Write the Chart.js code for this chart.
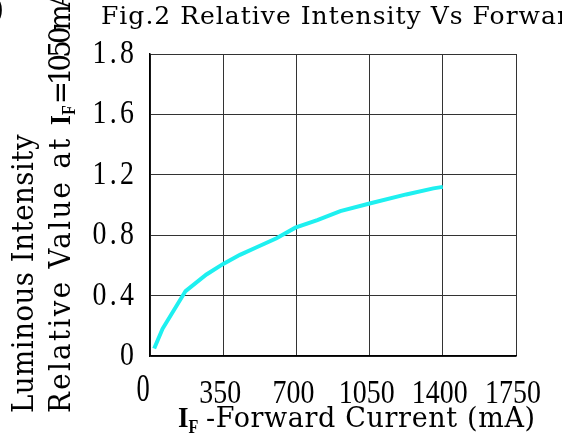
<!DOCTYPE html>
<html>
<head>
<meta charset="utf-8">
<script src="https://cdn.jsdelivr.net/npm/chart.js@4"></script>
<style>
html,body{margin:0;padding:0;background:#fff;}
#wrap{width:562px;height:436px;position:relative;}
</style>
</head>
<body>
<div id="wrap"><canvas id="c"></canvas></div>
<script>
const currentMA = [20, 60, 170, 270, 350, 430, 510, 605, 695, 800, 910, 1050, 1225, 1355, 1400];
const relIntensity = [0.05, 0.18, 0.43, 0.54, 0.61, 0.67, 0.72, 0.78, 0.85, 0.90, 0.96, 1.01, 1.07, 1.11, 1.12];
const xTickLabels = ['0', '350', '700', '1050', '1400', '1750'];
const yTickLabels = ['0', '0.4', '0.8', '1.2', '1.6', '1.8'];
const titleText = 'Fig.2 Relative Intensity Vs Forward Current';
const yTitle1 = 'Luminous Intensity';
const yTitle2a = 'Relative Value at ';
const yTitle2b = '=1050mA';
const xTitleRest = '-Forward Current (mA)';

const points = currentMA.map((x, i) => ({x: x, y: relIntensity[i]}));

const SERIF = '"Liberation Serif", "DejaVu Serif", serif';
const DSERIF = '"DejaVu Serif", "Liberation Serif", serif';

function txt(ctx, s, x, y, o) {
  ctx.save();
  const sx = o.sx || 1, sy = o.sy || 1;
  ctx.font = (o.weight || 'normal') + ' ' + o.size + 'px ' + (o.family || SERIF);
  ctx.letterSpacing = '0px';
  const w0 = ctx.measureText(s).width;
  let W = w0 * sx, ls = 0;
  if (o.adv) {
    const T = o.adv * s.length;
    ls = (T / sx - w0) / s.length;
    W = T - ls * sx;
  }
  let dx = o.align === 'right' ? -W : (o.align === 'center' ? -W / 2 : 0);
  ctx.translate(x, y);
  if (o.rot) ctx.rotate(o.rot);
  ctx.scale(sx, sy);
  ctx.letterSpacing = ls + 'px';
  ctx.textAlign = 'left';
  ctx.textBaseline = 'alphabetic';
  ctx.fillStyle = '#000';
  ctx.fillText(s, dx / sx, 0);
  ctx.restore();
  return o.adv ? o.adv * s.length : W;
}

const textPlugin = {
  id: 'textPlugin',
  afterDraw(chart) {
    const ctx = chart.ctx;
    const xs = chart.scales.x, ys = chart.scales.y;
    // x tick labels
    xs.ticks.forEach((t, i) => {
      const px = xs.getPixelForValue(t.value);
      if (i === 0) {
        txt(ctx, xTickLabels[i], px - 7, 401, {size: 40, sx: 0.66, align: 'center'});
      } else {
        txt(ctx, xTickLabels[i], px - 3, 403, {size: 34, sx: 0.82, adv: 14, align: 'center'});
      }
    });
    // y tick labels
    ys.ticks.forEach((t, i) => {
      const py = ys.getPixelForValue(t.value);
      txt(ctx, yTickLabels[i], 134, py + 9, {size: 34, sx: 0.82, adv: 15, align: 'right'});
    });
    // title
    txt(ctx, titleText, 101, 24, {size: 25, sx: 1.0, adv: 14, family: DSERIF});
    // left cut-off paren
    txt(ctx, ')', -5, 18, {size: 26, sx: 0.85, family: DSERIF});
    // y title line 1
    const R = -Math.PI / 2;
    txt(ctx, yTitle1, 33, 413, {size: 29, sx: 0.95, adv: 15.5, rot: R, family: DSERIF});
    // y title line 2
    ctx.save();
    ctx.translate(70, 413);
    ctx.rotate(R);
    let off = 0;
    off += txt(ctx, yTitle2a, off, 0, {size: 29, sx: 0.95, adv: 16, family: DSERIF});
    off += txt(ctx, 'I', off, 0, {size: 30, sx: 0.85, weight: 'bold'});
    off += txt(ctx, 'F', off, 5, {size: 19, sx: 0.85, weight: 'bold'});
    txt(ctx, yTitle2b, off + 1, 0, {size: 29, sx: 0.95, adv: 16, family: DSERIF});
    ctx.restore();
    // x title
    let xo = 178;
    xo += txt(ctx, 'I', xo, 427, {size: 30, sx: 0.9, weight: 'bold'});
    txt(ctx, 'F', xo, 433, {size: 19, sx: 0.85, weight: 'bold'});
    txt(ctx, xTitleRest, 206, 427, {size: 27, sx: 1.0, adv: 15.7, family: DSERIF});
  }
};

new Chart(document.getElementById('c'), {
  type: 'line',
  data: {
    datasets: [{
      data: points,
      borderColor: '#1ef0f0',
      borderWidth: 4,
      pointRadius: 0,
      tension: 0,
      fill: false
    }]
  },
  options: {
    responsive: true,
    maintainAspectRatio: false,
    animation: false,
    layout: {padding: {left: 150, top: 54, right: 46, bottom: 80}},
    plugins: {legend: {display: false}, tooltip: {enabled: false}, title: {display: false}},
    scales: {
      x: {
        type: 'linear', min: 0, max: 1750,
        ticks: {stepSize: 350, display: false},
        grid: {color: '#333', lineWidth: 1, drawTicks: false},
        border: {display: true, color: '#000', width: 1.5}
      },
      y: {
        type: 'linear', min: 0, max: 2.0,
        ticks: {stepSize: 0.4, display: false},
        grid: {color: '#333', lineWidth: 1, drawTicks: false},
        border: {display: true, color: '#000', width: 1.5}
      }
    }
  },
  plugins: [textPlugin]
});
</script>
</body>
</html>
